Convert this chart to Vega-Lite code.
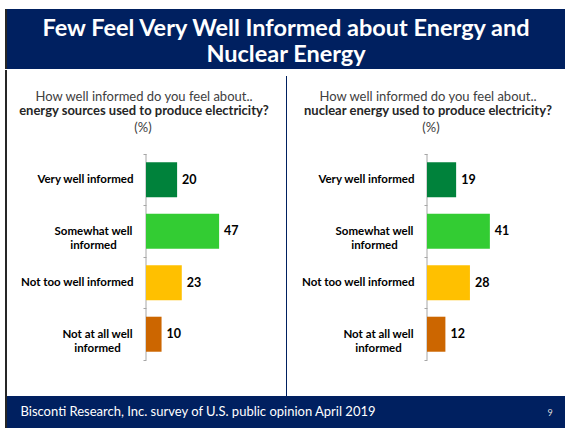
{
  "$schema": "https://vega.github.io/schema/vega-lite/v6.json",
  "padding": {"left": 5, "top": 9, "right": 0, "bottom": 0},
  "background": "white",
  "config": {"view": {"stroke": null}, "font": "Lato"},
  "datasets": {
    "energy": [
      {"level": "Very well informed", "pct": 20},
      {"level": "Somewhat well informed", "pct": 47},
      {"level": "Not too well informed", "pct": 23},
      {"level": "Not at all well informed", "pct": 10}
    ],
    "nuclear": [
      {"level": "Very well informed", "pct": 19},
      {"level": "Somewhat well informed", "pct": 41},
      {"level": "Not too well informed", "pct": 28},
      {"level": "Not at all well informed", "pct": 12}
    ],
    "headline": [{"text": "Few Feel Very Well Informed about Energy and\nNuclear Energy"}],
    "page": [{"text": "9"}],
    "blank": [{"text": ""}]
  },
  "spacing": 0,
  "vconcat": [
    {
      "hconcat": [
        {"width": 2, "height": 60, "view": {"fill": "#262626"}, "data": {"name": "blank"}, "mark": {"type": "text"}, "encoding": {"text": {"field": "text"}}},
        {"width": 558, "height": 60, "view": {"fill": "#002060"}, "data": {"name": "headline"},
          "mark": {"type": "text", "lineBreak": "\n", "color": "white", "fontSize": 23.5, "fontWeight": "bold", "font": "Lato", "lineHeight": 26, "baseline": "middle", "align": "center", "dy": -10},
          "encoding": {"text": {"field": "text"}}}
      ],
      "spacing": 0,
      "bounds": "flush"
    },
    {
      "hconcat": [
        {"width": 2, "height": 320, "view": {"fill": "#262626"}, "data": {"name": "blank"}, "mark": {"type": "text"},
          "encoding": {
            "text": {"field": "text"},
            "x": {"datum": 0, "type": "quantitative", "scale": {"domain": [-1, 1]},
              "axis": {"orient": "top", "values": [0], "labels": false, "domain": false, "grid": false, "ticks": true, "tickSize": 6, "tickWidth": 2, "tickColor": "#262626", "title": null, "translate": 0}}
          }},
        {"width": 139, "height": 320, "data": {"name": "blank"}, "mark": {"type": "text"}, "encoding": {"text": {"field": "text"}}},
        {
          "width": 140, "height": 309,
          "data": {"name": "energy"},
          "title": {"text": "How well informed do you feel about..", "subtitle": "energy sources used to produce electricity?", "anchor": "middle", "frame": "group", "dx": -72, "offset": -48,
            "font": "Lato", "fontSize": 13, "fontWeight": "normal", "color": "#404040",
            "subtitleFont": "Lato", "subtitleFontSize": 13, "subtitleFontWeight": "bold", "subtitleColor": "#262626", "subtitlePadding": 1.5},
          "layer": [
            {"mark": {"type": "rule", "color": "#a6a6a6", "strokeWidth": 1},
              "encoding": {
                "x": {"datum": 0, "type": "quantitative"},
                "y": {"field": "level", "type": "nominal", "sort": null, "bandPosition": 0},
                "y2": {"field": "level", "bandPosition": 1}
              }},
            {"mark": {"type": "bar", "height": {"band": 0.68}},
              "encoding": {
                "x": {"field": "pct", "type": "quantitative", "scale": {"domain": [0, 90], "nice": false},
                  "axis": {"orient": "top", "title": "(%)", "labels": false, "ticks": false, "domain": false, "grid": false, "tickSize": 0, "labelPadding": 0, "minExtent": 0, "maxExtent": 0, "offset": 0, "titlePadding": 0,
                    "titleX": -3.5, "titleY": 55.5, "titleBaseline": "alphabetic", "titleAlign": "center", "titleFont": "Lato", "titleFontSize": 13, "titleFontWeight": "normal", "titleColor": "#404040"}},
                "y": {"field": "level", "type": "nominal", "sort": null,
                  "scale": {"paddingInner": 0, "paddingOuter": 1, "align": 0.757},
                  "axis": {"title": null, "domain": false, "tickBand": "extent", "tickSize": 3, "tickColor": "#a6a6a6",
                    "labelFont": "Lato", "labelFontSize": 11.5, "labelFontWeight": "bold", "labelColor": "#000000", "labelLineHeight": 14, "labelLimit": 0,
                    "labelExpr": "datum.label == 'Somewhat well informed' ? ['Somewhat well', 'informed'] : datum.label == 'Not at all well informed' ? ['Not at all well', 'informed'] : datum.label",
                    "labelAlign": {"condition": {"test": "datum.value == 'Somewhat well informed' || datum.value == 'Not at all well informed'", "value": "center"}, "value": "right"},
                    "labelPadding": {"condition": [{"test": "datum.value == 'Somewhat well informed'", "value": 50}, {"test": "datum.value == 'Not at all well informed'", "value": 46}], "value": 10}}},
                "color": {"field": "level", "type": "nominal", "legend": null,
                  "scale": {"domain": ["Very well informed", "Somewhat well informed", "Not too well informed", "Not at all well informed"], "range": ["#00823B", "#33CC33", "#FFC000", "#CC6600"]}}
              }},
            {"mark": {"type": "text", "align": "left", "baseline": "middle", "dx": 5, "font": "Lato", "fontSize": 12.5, "fontWeight": "bold", "color": "#000000"},
              "encoding": {
                "x": {"field": "pct", "type": "quantitative"},
                "y": {"field": "level", "type": "nominal", "sort": null},
                "text": {"field": "pct", "type": "quantitative"}
              }}
          ]
        },
        {"width": 1, "height": 320, "view": {"fill": "#002060"}, "data": {"name": "blank"}, "mark": {"type": "text"}, "encoding": {"text": {"field": "text"}}},
        {"width": 140, "height": 320, "data": {"name": "blank"}, "mark": {"type": "text"}, "encoding": {"text": {"field": "text"}}},
        {
          "width": 138, "height": 309,
          "data": {"name": "nuclear"},
          "title": {"text": "How well informed do you feel about..", "subtitle": "nuclear energy used to produce electricity?", "anchor": "middle", "frame": "group", "dx": -68, "offset": -48,
            "font": "Lato", "fontSize": 13, "fontWeight": "normal", "color": "#404040",
            "subtitleFont": "Lato", "subtitleFontSize": 13, "subtitleFontWeight": "bold", "subtitleColor": "#262626", "subtitlePadding": 1.5},
          "layer": [
            {"mark": {"type": "rule", "color": "#a6a6a6", "strokeWidth": 1},
              "encoding": {
                "x": {"datum": 0, "type": "quantitative"},
                "y": {"field": "level", "type": "nominal", "sort": null, "bandPosition": 0},
                "y2": {"field": "level", "bandPosition": 1}
              }},
            {"mark": {"type": "bar", "height": {"band": 0.68}},
              "encoding": {
                "x": {"field": "pct", "type": "quantitative", "scale": {"domain": [0, 90], "nice": false},
                  "axis": {"orient": "top", "title": "(%)", "labels": false, "ticks": false, "domain": false, "grid": false, "tickSize": 0, "labelPadding": 0, "minExtent": 0, "maxExtent": 0, "offset": 0, "titlePadding": 0,
                    "titleX": 3.5, "titleY": 55.5, "titleBaseline": "alphabetic", "titleAlign": "center", "titleFont": "Lato", "titleFontSize": 13, "titleFontWeight": "normal", "titleColor": "#404040"}},
                "y": {"field": "level", "type": "nominal", "sort": null,
                  "scale": {"paddingInner": 0, "paddingOuter": 1, "align": 0.757},
                  "axis": {"title": null, "domain": false, "tickBand": "extent", "tickSize": 3, "tickColor": "#a6a6a6",
                    "labelFont": "Lato", "labelFontSize": 11.5, "labelFontWeight": "bold", "labelColor": "#000000", "labelLineHeight": 14, "labelLimit": 0,
                    "labelExpr": "datum.label == 'Somewhat well informed' ? ['Somewhat well', 'informed'] : datum.label == 'Not at all well informed' ? ['Not at all well', 'informed'] : datum.label",
                    "labelAlign": {"condition": {"test": "datum.value == 'Somewhat well informed' || datum.value == 'Not at all well informed'", "value": "center"}, "value": "right"},
                    "labelPadding": {"condition": [{"test": "datum.value == 'Somewhat well informed'", "value": 50}, {"test": "datum.value == 'Not at all well informed'", "value": 46}], "value": 10}}},
                "color": {"field": "level", "type": "nominal", "legend": null,
                  "scale": {"domain": ["Very well informed", "Somewhat well informed", "Not too well informed", "Not at all well informed"], "range": ["#00823B", "#33CC33", "#FFC000", "#CC6600"]}}
              }},
            {"mark": {"type": "text", "align": "left", "baseline": "middle", "dx": 5, "font": "Lato", "fontSize": 12.5, "fontWeight": "bold", "color": "#000000"},
              "encoding": {
                "x": {"field": "pct", "type": "quantitative"},
                "y": {"field": "level", "type": "nominal", "sort": null},
                "text": {"field": "pct", "type": "quantitative"}
              }}
          ]
        }
      ],
      "spacing": 0,
      "bounds": "flush"
    },
    {
      "hconcat": [
        {"width": 2, "height": 32, "view": {"fill": "#262626"}, "data": {"name": "blank"}, "mark": {"type": "text"}, "encoding": {"text": {"field": "text"}}},
        {"width": 528, "height": 32, "view": {"fill": "#002060"}, "data": {"name": "blank"},
          "title": {"text": "Bisconti Research, Inc. survey of U.S. public opinion April 2019", "anchor": "start", "frame": "group", "orient": "top", "offset": -29, "baseline": "middle", "dx": 13.5, "color": "white", "fontSize": 13, "fontWeight": "normal", "font": "Lato"},
          "mark": {"type": "text"}, "encoding": {"text": {"field": "text"}}},
        {"width": 30, "height": 32, "view": {"fill": "#002060"}, "data": {"name": "page"},
          "mark": {"type": "text", "color": "#D9D9D9", "fontSize": 9, "font": "Lato", "baseline": "middle", "align": "center", "dy": 1},
          "encoding": {"text": {"field": "text"}}}
      ],
      "spacing": 0,
      "bounds": "flush"
    }
  ]
}
